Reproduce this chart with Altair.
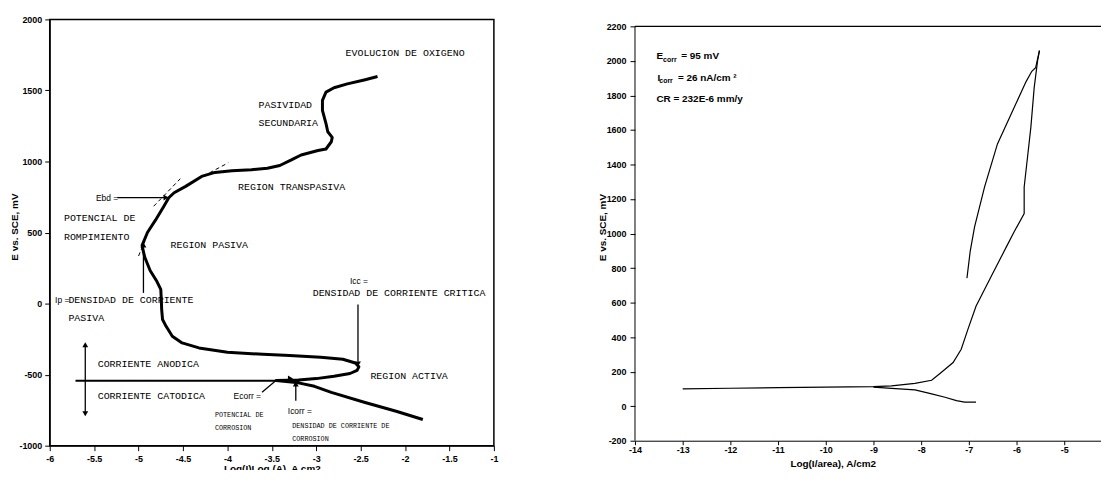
import altair as alt
import pandas as pd

# ---------------- Left panel: schematic anodic polarization curve ----------------
L_curve_x = [-1.80, -2.10, -2.46, -2.83, -3.02, -3.20, -3.45,
             -3.20, -3.00, -2.80, -2.62, -2.54, -2.52, -2.56, -2.70, -2.95, -3.30, -3.60, -4.00,
             -4.32, -4.51, -4.62, -4.69, -4.73, -4.74, -4.745, -4.75, -4.80, -4.87, -4.93, -4.955, -4.96,
             -4.90, -4.81, -4.72, -4.66, -4.60, -4.47, -4.29, -4.14, -3.95, -3.73, -3.55, -3.41, -3.28, -3.17,
             -2.98, -2.89, -2.83, -2.82, -2.87, -2.89, -2.93, -2.93, -2.89, -2.80, -2.65, -2.46, -2.31]
L_curve_y = [-816, -758, -694, -625, -582, -558, -542,
             -537, -528, -512, -492, -470, -445, -418, -392, -378, -366, -357, -342,
             -312, -277, -230, -160, -112, -40, 40, 100, 163, 233, 326, 390, 410,
             500, 587, 680, 745, 780, 825, 895, 923, 935, 942, 952, 972, 1011, 1046,
             1077, 1088, 1139, 1170, 1209, 1267, 1360, 1430, 1488, 1519, 1546, 1574, 1598]

# horizontal Ecorr line
L_ecorr_x = [-5.71, -3.20]
L_ecorr_y = [-543, -543]

# dashed tangents
L_tan_x1 = [-4.83, -4.27, -5.00]
L_tan_y1 = [685, 897, 335]
L_tan_x2 = [-4.53, -3.99, -4.93]
L_tan_y2 = [879, 991, 440]

# arrow shafts
L_arr_x1 = [-5.24, -4.945, -2.53, -3.61, -3.23, -5.60]
L_arr_y1 = [746, 75, -7, -624, -683, -300]
L_arr_x2 = [-4.71, -4.945, -2.53, -3.45, -3.23, -5.60]
L_arr_y2 = [746, 400, -410, -540, -575, -765]

# arrow heads
L_head_x = [-4.69, -4.945, -2.53, -3.29, -3.23, -5.60, -5.60]
L_head_y = [746, 412, -425, -527, -565, -290, -775]
L_head_shape = ["triangle-right", "triangle-up", "triangle-down", "triangle-right",
                "triangle-up", "triangle-up", "triangle-down"]

# annotation texts (typewriter)
L_txt = ["EVOLUCION DE OXIGENO", "PASIVIDAD", "SECUNDARIA", "REGION TRANSPASIVA",
         "POTENCIAL DE", "ROMPIMIENTO", "REGION PASIVA", "DENSIDAD DE CORRIENTE", "PASIVA",
         "DENSIDAD DE CORRIENTE CRITICA", "CORRIENTE ANODICA", "CORRIENTE CATODICA", "REGION ACTIVA"]
L_txt_x = [-2.67, -3.65, -3.65, -3.88, -5.84, -5.84, -4.64, -5.79, -5.79, -3.04, -5.46, -5.46, -2.39]
L_txt_y = [1764, 1396, 1268, 820, 599, 466, 413, 23, -100, 75, -427, -648, -513]

L_small = ["POTENCIAL DE", "CORROSION", "DENSIDAD DE CORRIENTE DE", "CORROSION"]
L_small_x = [-4.14, -4.14, -3.27, -3.27]
L_small_y = [-781, -874, -865, -956]

L_sym = ["Ebd =", "Ip =", "Icc =", "Ecorr =", "Icorr ="]
L_sym_x = [-5.48, -5.94, -2.62, -3.93, -3.32]
L_sym_y = [746, 23, 156, -652, -753]

L_xticks = [-6, -5.5, -5, -4.5, -4, -3.5, -3, -2.5, -2, -1.5, -1]
L_yticks = [-1000, -500, 0, 500, 1000, 1500, 2000]

# ---------------- Right panel: cyclic polarization ----------------
R_fwd_x = [-13.0, -12.0, -11.0, -10.0, -9.0, -8.62, -8.13, -7.78, -7.58, -7.33, -7.16, -7.02,
           -6.85, -6.53, -6.20, -6.05, -5.84, -5.84, -5.77, -5.70, -5.63, -5.56, -5.52]
R_fwd_y = [100, 104, 107, 110, 113, 118, 132, 150, 195, 253, 330, 445,
           579, 752, 930, 1010, 1116, 1270, 1442, 1615, 1845, 1999, 2060]
R_rev_x = [-5.52, -5.60, -5.68, -5.80, -6.05, -6.40, -6.67, -6.88, -6.97, -7.04]
R_rev_y = [2060, 1960, 1940, 1880, 1730, 1519, 1270, 1039, 900, 742]
R_cat_x = [-9.0, -8.62, -8.13, -7.78, -7.50, -7.26, -7.09, -6.85]
R_cat_y = [110, 103, 94, 71, 52, 32, 23, 23]

R_txt_main = ["E", "I", "CR = 232E-6 mm/y"]
R_txt_main_x = [-13.55, -13.53, -13.55]
R_txt_main_y = [2027, 1902, 1778]
R_txt_sub = ["corr", "corr"]
R_txt_sub_x = [-13.41, -13.49]
R_txt_sub_y = [2007, 1882]
R_txt_rest = ["= 95 mV", "= 26 nA/cm \u00b2"]
R_txt_rest_x = [-13.03, -13.10]
R_txt_rest_y = [2027, 1902]

R_xticks = list(range(-14, -4))
R_yticks = list(range(-200, 2201, 200))

# ---------------- styling ----------------
SANS = "Liberation Sans Narrow, Arial Narrow, Liberation Sans, Arial, sans-serif"
MONO = "Courier New, Liberation Mono, monospace"
LBL = "replace('' + datum.value, '\u2212', '-')"


def axis(values, title, tick=5, lpad=2, **kw):
    return alt.Axis(values=values, tickCount=len(values) + 2, title=title, grid=False,
                    labelExpr=LBL, labelFont=SANS, labelFontSize=9, labelFontWeight="bold",
                    labelColor="black", titleFont=SANS, titleFontSize=10,
                    titleFontWeight="bold", titleColor="black", domainColor="black",
                    tickColor="black", tickSize=tick, labelPadding=lpad,
                    labelFlush=False, labelOverlap=False, **kw)


# ---------------- Left chart ----------------
LW, LH = 447, 429
Lx = alt.Scale(domain=[-6, -1], nice=False, zero=False)
Ly = alt.Scale(domain=[-1000, 2000], nice=False, zero=False)

df_curve = pd.DataFrame({"x": L_curve_x, "y": L_curve_y, "i": range(len(L_curve_x))})
main = alt.Chart(df_curve).mark_line(color="black", strokeWidth=3, strokeJoin="round").encode(
    x=alt.X("x:Q", scale=Lx, axis=axis(L_xticks, "Log(I)Log (A), A cm2", tick=5, lpad=4,
                                       titleX=LW / 2, titleY=18)),
    y=alt.Y("y:Q", scale=Ly, axis=axis(L_yticks, "E vs. SCE, mV", tick=5, lpad=3,
                                       titleX=-30, titleY=LH / 2 - 6)),
    order="i:Q",
)

df_ec = pd.DataFrame({"x": L_ecorr_x, "y": L_ecorr_y})
ecl = alt.Chart(df_ec).mark_line(color="black", strokeWidth=2).encode(
    x=alt.X("x:Q", scale=Lx), y=alt.Y("y:Q", scale=Ly))

df_tan = pd.DataFrame({"x": L_tan_x1, "y": L_tan_y1, "x2": L_tan_x2, "y2": L_tan_y2})
tan = alt.Chart(df_tan).mark_rule(color="black", strokeWidth=1, strokeDash=[4, 3]).encode(
    x=alt.X("x:Q", scale=Lx), y=alt.Y("y:Q", scale=Ly), x2="x2:Q", y2="y2:Q")

df_arr = pd.DataFrame({"x": L_arr_x1, "y": L_arr_y1, "x2": L_arr_x2, "y2": L_arr_y2})
arr = alt.Chart(df_arr).mark_rule(color="black", strokeWidth=1.3).encode(
    x=alt.X("x:Q", scale=Lx), y=alt.Y("y:Q", scale=Ly), x2="x2:Q", y2="y2:Q")

df_head = pd.DataFrame({"x": L_head_x, "y": L_head_y, "s": L_head_shape})
heads = alt.Chart(df_head).mark_point(filled=True, color="black", size=35, opacity=1).encode(
    x=alt.X("x:Q", scale=Lx), y=alt.Y("y:Q", scale=Ly), shape=alt.Shape("s:N", scale=None))

df_txt = pd.DataFrame({"x": L_txt_x, "y": L_txt_y, "t": L_txt})
txt = alt.Chart(df_txt).mark_text(font=MONO, fontSize=10, align="left", baseline="middle",
                                  color="black").encode(
    x=alt.X("x:Q", scale=Lx), y=alt.Y("y:Q", scale=Ly), text="t:N")

df_small = pd.DataFrame({"x": L_small_x, "y": L_small_y, "t": L_small})
small = alt.Chart(df_small).mark_text(font=MONO, fontSize=6.8, align="left", baseline="middle",
                                      color="black").encode(
    x=alt.X("x:Q", scale=Lx), y=alt.Y("y:Q", scale=Ly), text="t:N")

df_sym = pd.DataFrame({"x": L_sym_x, "y": L_sym_y, "t": L_sym})
sym = alt.Chart(df_sym).mark_text(font=SANS, fontSize=8.5, align="left", baseline="middle",
                                  color="black").encode(
    x=alt.X("x:Q", scale=Lx), y=alt.Y("y:Q", scale=Ly), text="t:N")

left = alt.layer(main, ecl, tan, arr, heads, txt, small, sym).properties(
    width=LW, height=LH,
    view=alt.ViewBackground(stroke="black", strokeWidth=1.5),
)

# ---------------- Right chart ----------------
RW, RH = 474, 424
Rx = alt.Scale(domain=[-14, -4.125], nice=False, zero=False)
Ry = alt.Scale(domain=[-200, 2240.3], nice=False, zero=False)

rows = []
for name, xs, ys in (("fwd", R_fwd_x, R_fwd_y), ("rev", R_rev_x, R_rev_y), ("cat", R_cat_x, R_cat_y)):
    for i, (a, b) in enumerate(zip(xs, ys)):
        rows.append({"x": a, "y": b, "s": name, "i": i})
df_r = pd.DataFrame(rows)

rcurve = alt.Chart(df_r).mark_line(color="black", strokeWidth=1.2).encode(
    x=alt.X("x:Q", scale=Rx, axis=axis(R_xticks, "Log(I/area), A/cm2", tick=4, lpad=1,
                                       titleX=RW * 0.5 - 38, titleY=18)),
    y=alt.Y("y:Q", scale=Ry, axis=axis(R_yticks, "E vs. SCE, mV", tick=5, lpad=4,
                                       titleX=-28, titleY=209, domain=False)),
    detail="s:N", order="i:Q",
)

top_rule = alt.Chart(pd.DataFrame({"y": [2200]})).mark_rule(color="black", strokeWidth=1.2).encode(
    y=alt.Y("y:Q", scale=Ry))
left_rule = alt.Chart(pd.DataFrame({"x": [-14], "y": [-200], "y2": [2200]})).mark_rule(
    color="black", strokeWidth=1).encode(
    x=alt.X("x:Q", scale=Rx), y=alt.Y("y:Q", scale=Ry), y2="y2:Q")

RT = dict(font=SANS, fontWeight="bold", color="black", align="left", baseline="middle")
rt1 = alt.Chart(pd.DataFrame({"x": R_txt_main_x, "y": R_txt_main_y, "t": R_txt_main})).mark_text(
    fontSize=10, **RT).encode(x=alt.X("x:Q", scale=Rx), y=alt.Y("y:Q", scale=Ry), text="t:N")
rt2 = alt.Chart(pd.DataFrame({"x": R_txt_sub_x, "y": R_txt_sub_y, "t": R_txt_sub})).mark_text(
    fontSize=7, **RT).encode(x=alt.X("x:Q", scale=Rx), y=alt.Y("y:Q", scale=Ry), text="t:N")
rt3 = alt.Chart(pd.DataFrame({"x": R_txt_rest_x, "y": R_txt_rest_y, "t": R_txt_rest})).mark_text(
    fontSize=10, **RT).encode(x=alt.X("x:Q", scale=Rx), y=alt.Y("y:Q", scale=Ry), text="t:N")

right = alt.layer(rcurve, top_rule, left_rule, rt1, rt2, rt3).properties(
    width=RW, height=RH,
    view=alt.ViewBackground(stroke=None),
)

chart = alt.hconcat(left, right, spacing=99).properties(
    autosize=alt.AutoSizeParams(type="none"),
    padding={"left": 42, "top": 10, "right": 1058, "bottom": 452},
    background="white",
)

chart.save("out.html", embed_options={"renderer": "svg", "actions": False})
